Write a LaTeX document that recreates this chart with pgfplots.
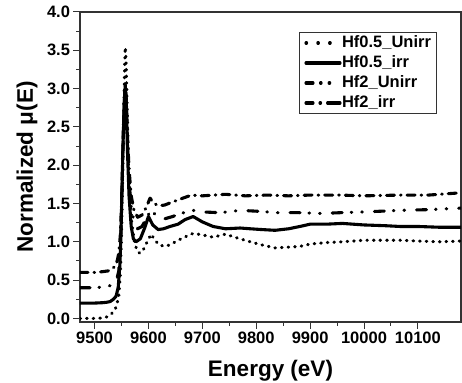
\documentclass[border=0pt]{standalone}
\usepackage{fontspec}
\setmainfont{Liberation Sans}
\usepackage{pgfplots}
\pgfplotsset{compat=1.18}
\tikzset{myline/.style={black, line width=3.1bp, line cap=round, line join=round}}
\begin{document}
\begin{tikzpicture}
\begin{axis}[
  width=381bp, height=310bp, scale only axis,
  xmin=9473, xmax=10180, ymin=-0.047, ymax=4.0,
  xtick={9500,9600,...,10100}, ytick={0,0.5,...,4},
  scaled x ticks=false,
  minor x tick num=1, minor y tick num=1,
  xtick pos=bottom, ytick pos=left, tick align=outside,
  major tick length=6.5bp, minor tick length=3.5bp,
  every tick/.style={black!80, line width=1bp},
  axis line style={black!80, line width=1.1bp},
  /pgf/number format/assume math mode=true,
  xticklabel style={/pgf/number format/1000 sep={}, font=\fontsize{16.5bp}{18bp}\selectfont\bfseries},
  yticklabel style={/pgf/number format/.cd, fixed, fixed zerofill, precision=1, /tikz/.cd, font=\fontsize{16.5bp}{18bp}\selectfont\bfseries},
  xlabel={Energy (eV)}, ylabel={Normalized μ(E)},
  xlabel style={font=\fontsize{22.5bp}{24bp}\selectfont\bfseries, at={(axis description cs:0.5,-0.1742)}, anchor=base},
  ylabel style={font=\fontsize{22.5bp}{24bp}\selectfont\bfseries, at={(axis description cs:-0.1234,0.5)}, anchor=base},
  legend style={at={(0.937,0.9355)}, anchor=north east, draw=black!80, line width=1bp,
    inner xsep=5bp, inner ysep=2bp, row sep=3bp,
    font=\fontsize{16.5bp}{18bp}\selectfont\bfseries,
    nodes={inner sep=0.5bp, text height=12.5bp, text depth=3.5bp}},
  legend cell align=left,
  legend image code/.code={\draw[#1] (0bp,0bp) -- (34bp,0bp);},
]
\addlegendimage{myline, dash pattern=on 0.6bp off 11.2bp}
\addlegendentry{Hf0.5\_Unirr}
\addlegendimage{myline, solid}
\addlegendentry{Hf0.5\_irr}
\addlegendimage{myline, dash pattern=on 7bp off 7.5bp on 0.6bp off 8bp on 0.6bp off 20bp}
\addlegendentry{Hf2\_Unirr}
\addlegendimage{myline, dash pattern=on 7bp off 7bp on 0.6bp off 7bp on 20bp}
\addlegendentry{Hf2\_irr}
% Hf0.5_Unirr
\addplot[myline, forget plot, dash pattern=on 0.6bp off 6bp] coordinates {
(9473,0.00) (9500,0.00) (9515,0.005) (9523,0.02) (9530,0.05) (9538,0.11) (9542,0.20) (9545,0.30)
(9548,0.6) (9550,1.1) (9552,1.8) (9554,2.6) (9556,3.3) (9557,3.54) (9558,3.45) (9560,2.9)
(9562,2.3) (9565,1.7) (9569,1.25) (9574,1.0) (9579,0.88) (9584,0.85) (9590,0.89) (9597,0.99)
(9605,1.10) (9612,1.02) (9620,0.96) (9630,0.94) (9640,0.96) (9655,1.02) (9670,1.07) (9683,1.11)
(9700,1.09) (9720,1.06) (9743,1.10) (9760,1.06) (9789,1.00) (9810,0.96) (9835,0.92) (9860,0.93)
(9881,0.94) (9900,0.97) (9930,0.99) (9960,1.00) (10000,1.02) (10040,1.02) (10067,1.02)
(10100,1.01) (10140,1.00) (10180,1.01)};
% Hf0.5_irr
\addplot[myline, forget plot, solid] coordinates {
(9473,0.20) (9500,0.20) (9515,0.205) (9522,0.21) (9529,0.22) (9535,0.25) (9540,0.29) (9544,0.41)
(9547,0.7) (9549,1.1) (9551,1.7) (9553,2.3) (9555,2.8) (9557,3.05) (9559,2.8) (9561,2.2)
(9564,1.6) (9568,1.2) (9572,1.04) (9577,1.00) (9585,1.04) (9593,1.18) (9600,1.33) (9608,1.22)
(9618,1.16) (9628,1.17) (9640,1.20) (9655,1.23) (9668,1.29) (9683,1.33) (9700,1.26) (9720,1.20)
(9743,1.17) (9770,1.18) (9789,1.17) (9810,1.16) (9835,1.15) (9860,1.17) (9881,1.20) (9900,1.23)
(9930,1.23) (9960,1.24) (10000,1.22) (10040,1.21) (10067,1.20) (10100,1.20) (10140,1.19) (10180,1.19)};
% Hf2_Unirr
\addplot[myline, forget plot, dash pattern=on 10bp off 9bp on 0.6bp off 10bp on 0.6bp off 12bp] coordinates {
(9473,0.40) (9500,0.40) (9515,0.41) (9525,0.42) (9535,0.44) (9541,0.50) (9545,0.62)
(9548,0.95) (9550,1.4) (9552,2.0) (9554,2.6) (9556,2.95) (9557,3.05) (9559,2.8) (9561,2.3)
(9564,1.8) (9568,1.45) (9573,1.27) (9580,1.17) (9588,1.20) (9596,1.30) (9605,1.42) (9612,1.36)
(9620,1.31) (9630,1.30) (9645,1.33) (9660,1.37) (9683,1.41) (9700,1.39) (9733,1.38) (9770,1.41)
(9800,1.40) (9840,1.38) (9880,1.38) (9920,1.37) (9956,1.38) (10000,1.39) (10067,1.41)
(10120,1.42) (10180,1.44)};
% Hf2_irr
\addplot[myline, forget plot, dash pattern=on 8bp off 6bp on 0.6bp off 6bp] coordinates {
(9473,0.60) (9500,0.60) (9515,0.61) (9525,0.62) (9532,0.645) (9538,0.68) (9542,0.75) (9545,0.85)
(9548,1.1) (9550,1.5) (9552,2.1) (9554,2.6) (9556,2.95) (9557,3.05) (9559,2.85) (9561,2.4)
(9564,1.95) (9568,1.6) (9573,1.42) (9580,1.32) (9588,1.35) (9596,1.45) (9603,1.57) (9610,1.50)
(9620,1.47) (9630,1.48) (9645,1.52) (9660,1.56) (9680,1.61) (9700,1.60) (9743,1.62) (9780,1.60)
(9820,1.61) (9860,1.60) (9900,1.61) (9956,1.61) (10000,1.60) (10067,1.61) (10120,1.61) (10180,1.64)};
\end{axis}
\pgfresetboundingbox
\path[use as bounding box] ([xshift=-80bp,yshift=-61bp]current axis.south west) rectangle ([xshift=1bp,yshift=12bp]current axis.north east);
\end{tikzpicture}
\end{document}
